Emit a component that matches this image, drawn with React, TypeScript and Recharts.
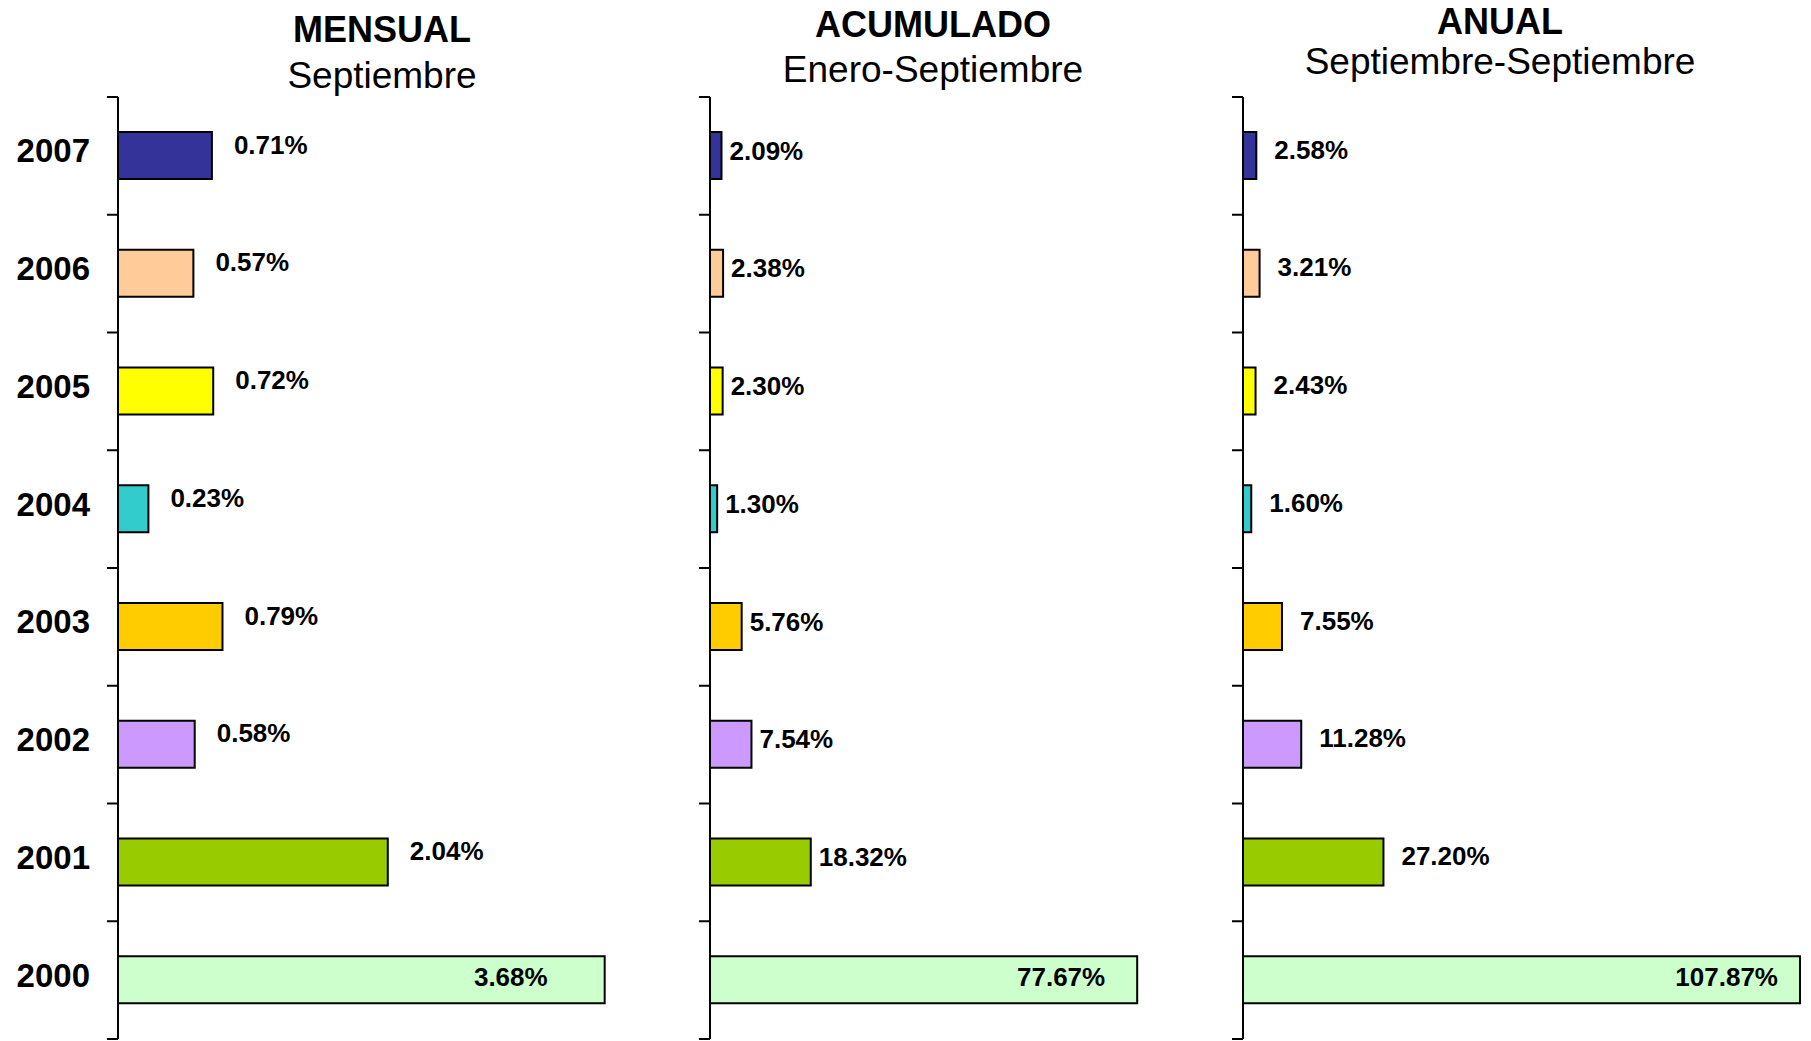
import React from 'react';
import { BarChart, Bar, XAxis, YAxis, Cell, LabelList } from 'recharts';

const years = ['2007', '2006', '2005', '2004', '2003', '2002', '2001', '2000'];
const mensual = [0.71, 0.57, 0.72, 0.23, 0.79, 0.58, 2.04, 3.68];
const acumulado = [2.09, 2.38, 2.30, 1.30, 5.76, 7.54, 18.32, 77.67];
const anual = [2.58, 3.21, 2.43, 1.60, 7.55, 11.28, 27.20, 107.87];
const barColors = ['#333399', '#FFCC99', '#FFFF00', '#33CCCC', '#FFCC00', '#CC99FF', '#99CC00', '#CCFFCC'];

const FONT = '"Liberation Sans", Arial, Helvetica, sans-serif';
const H = 1041;
const TOP = 97;
const BOTTOM = 2;

const panels = [
  { title: 'MENSUAL', sub: 'Septiembre', values: mensual, max: 4, left: 0, width: 660, axisW: 118, right: 13,
    titleX: 382, titleY: 30, subY: 76, gap: 22, inside: 57, dyOut: -11, showYears: true },
  { title: 'ACUMULADO', sub: 'Enero-Septiembre', values: acumulado, max: 80, left: 680, width: 480, axisW: 30, right: 10,
    titleX: 933, titleY: 25, subY: 70, gap: 8, inside: 32, dyOut: -5, showYears: false },
  { title: 'ANUAL', sub: 'Septiembre-Septiembre', values: anual, max: 110, left: 1213, width: 598, axisW: 30, right: 0,
    titleX: 1500, titleY: 22, subY: 62, gap: 18, inside: 22, dyOut: -6, showYears: false },
];

function Panel({ p }: { p: any }) {
  const data = years.map((y, i) => ({ year: y, value: p.values[i] }));
  const plotH = H - TOP - BOTTOM;
  const band = plotH / years.length;
  const axisX = p.axisW;

  const renderTick = (props: any) => {
    const { y, index, payload } = props;
    const last = index === years.length - 1;
    return (
      <g>
        <line x1={axisX - 11} x2={axisX} y1={y - band / 2} y2={y - band / 2} stroke="#000" strokeWidth={2} />
        {last && <line x1={axisX - 11} x2={axisX} y1={y + band / 2} y2={y + band / 2} stroke="#000" strokeWidth={2} />}
        {p.showYears && (
          <text x={90} y={y - 5} textAnchor="end" dominantBaseline="central" fontFamily={FONT} fontWeight="bold" fontSize={33} fill="#000">
            {payload.value}
          </text>
        )}
      </g>
    );
  };

  const renderLabel = (props: any) => {
    const { x, y, width, height, value, index } = props;
    const last = index === years.length - 1;
    const tx = last ? x + width - p.inside : x + width + p.gap;
    const ty = y + height / 2 + (last ? -3 : p.dyOut);
    return (
      <text x={tx} y={ty} textAnchor={last ? 'end' : 'start'} dominantBaseline="central" fontFamily={FONT} fontWeight="bold" fontSize={26} fill="#000">
        {`${Number(value).toFixed(2)}%`}
      </text>
    );
  };

  return (
    <div style={{ position: 'absolute', left: p.left, top: 0, width: p.width, height: H }}>
      <BarChart width={p.width} height={H} data={data} layout="vertical" margin={{ top: TOP, bottom: BOTTOM, left: 0, right: p.right }}>
        <XAxis type="number" domain={[0, p.max]} hide />
        <YAxis type="category" dataKey="year" width={p.axisW} axisLine={{ stroke: '#000', strokeWidth: 2 }} tickLine={false} tick={renderTick} interval={0} />
        <Bar dataKey="value" barSize={47} stroke="#000" strokeWidth={2} isAnimationActive={false}>
          {data.map((d, i) => (
            <Cell key={d.year} fill={barColors[i]} />
          ))}
          <LabelList dataKey="value" content={renderLabel} />
        </Bar>
      </BarChart>
    </div>
  );
}

export default function App() {
  return (
    <div style={{ position: 'absolute', left: 0, top: 0, width: 1811, height: H, background: '#fff', fontFamily: FONT, overflow: 'hidden' }}>
      {panels.map((p) => (
        <Panel key={p.title} p={p} />
      ))}
      {panels.map((p) => (
        <React.Fragment key={p.title + '-t'}>
          <div style={{ position: 'absolute', left: p.titleX - 300, width: 600, top: p.titleY - 20, lineHeight: '40px', textAlign: 'center', fontSize: 36, fontWeight: 'bold', color: '#000' }}>
            {p.title}
          </div>
          <div style={{ position: 'absolute', left: p.titleX - 300, width: 600, top: p.subY - 19, lineHeight: '38px', textAlign: 'center', fontSize: 37, color: '#000' }}>
            {p.sub}
          </div>
        </React.Fragment>
      ))}
    </div>
  );
}
